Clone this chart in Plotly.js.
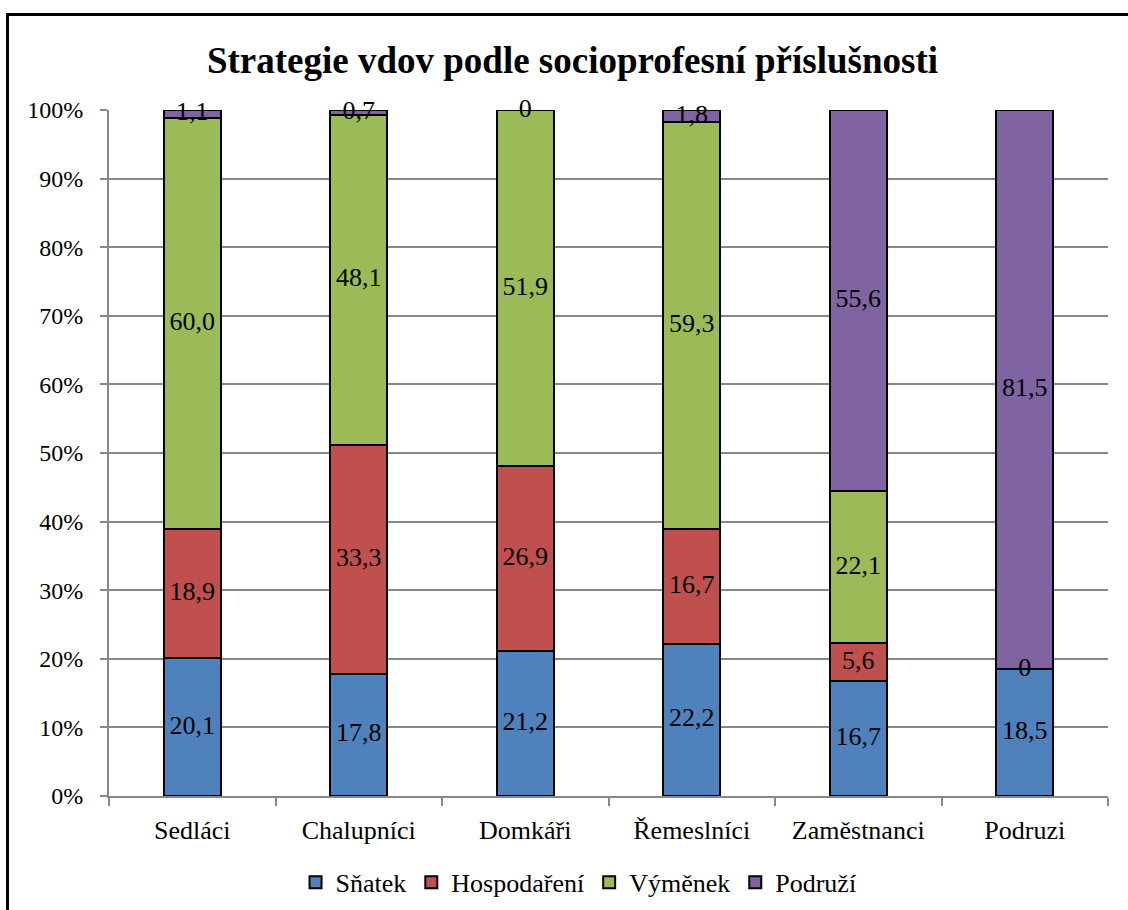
<!DOCTYPE html>
<html>
<head>
<meta charset="utf-8">
<script src="https://cdn.plot.ly/plotly-3.0.1.min.js"></script>
<style>
  html, body { margin: 0; padding: 0; background: #fff; overflow: hidden; }
  #wrap { position: relative; width: 1128px; height: 910px; overflow: hidden; }
  #chart { width: 1128px; height: 910px; }
  #frame { position: absolute; left: 6px; top: 13px; width: 1200px; height: 1000px;
           border: 3px solid #000; pointer-events: none; box-sizing: border-box; }
</style>
</head>
<body>
<div id="wrap">
  <div id="chart"></div>
  <div id="frame"></div>
</div>
<script>
const categories = ['Sedláci', 'Chalupníci', 'Domkáři', 'Řemeslníci', 'Zaměstnanci', 'Podruzi'];
const seriesNames = ['Sňatek', 'Hospodaření', 'Výměnek', 'Podruží'];
const snatek      = [20.1, 17.8, 21.2, 22.2, 16.7, 18.5];
const hospodareni = [18.9, 33.3, 26.9, 16.7, 5.6, 0];
const vymenek     = [60.0, 48.1, 51.9, 59.3, 22.1, null];
const podruzi     = [1.1, 0.7, 0, 1.8, 55.6, 81.5];
const colors = ['#4F81BD', '#C0504D', '#9BBB59', '#8064A2'];

const series = [snatek, hospodareni, vymenek, podruzi];
const FONT = 'Liberation Serif';

function fmt(v) {
  if (v === null) return '';
  if (v === 0) return '0';
  return v.toFixed(1).replace('.', ',');
}

// totals for 100% normalisation
const totals = categories.map((c, i) => series.reduce((s, arr) => s + (arr[i] || 0), 0));

const traces = [];
series.forEach((arr, k) => {
  traces.push({
    type: 'bar',
    name: seriesNames[k],
    x: categories,
    y: arr,
    width: 0.34,
    marker: { color: colors[k], line: { color: '#000', width: 2 } },
    hoverinfo: 'skip'
  });
});

// data labels at segment centres (normalised to percent)
series.forEach((arr, k) => {
  const ys = [], txt = [], xs = [];
  categories.forEach((c, i) => {
    if (arr[i] === null) return;
    let below = 0;
    for (let j = 0; j < k; j++) below += (series[j][i] || 0);
    const mid = (below + arr[i] / 2) / totals[i] * 100;
    xs.push(c); ys.push(mid); txt.push(fmt(arr[i]));
  });
  traces.push({
    type: 'scatter',
    mode: 'text',
    x: xs,
    y: ys,
    text: txt,
    textposition: 'middle center',
    textfont: { family: FONT, size: 26, color: '#000' },
    showlegend: false,
    hoverinfo: 'skip',
    cliponaxis: false
  });
});

const layout = {
  width: 1128,
  height: 910,
  margin: { l: 109, r: 20, t: 110, b: 114, autoexpand: false },
  paper_bgcolor: '#fff',
  plot_bgcolor: '#fff',
  barmode: 'stack',
  barnorm: 'percent',
  font: { family: FONT, color: '#000', size: 25 },
  title: {
    text: '<b>Strategie vdov podle socioprofesní příslušnosti</b>',
    font: { family: FONT, size: 37, color: '#000' },
    xref: 'container', x: 0.5075, xanchor: 'center',
    yref: 'container', y: 1 - 60 / 910, yanchor: 'middle'
  },
  xaxis: {
    type: 'category',
    automargin: false,
    showline: true, linecolor: '#888', linewidth: 2,
    ticks: 'outside', tickson: 'boundaries', ticklen: 8, tickcolor: '#888', tickwidth: 2,
    ticklabelstandoff: 10,
    tickfont: { family: FONT, size: 26, color: '#000' },
    showgrid: false,
    fixedrange: true
  },
  yaxis: {
    range: [0, 100],
    automargin: false,
    tickvals: [0, 10, 20, 30, 40, 50, 60, 70, 80, 90, 100],
    ticktext: ['0%', '10%', '20%', '30%', '40%', '50%', '60%', '70%', '80%', '90%', '100%'],
    showline: true, linecolor: '#888', linewidth: 2,
    ticks: 'outside', ticklen: 7, tickcolor: '#888', tickwidth: 2,
    ticklabelstandoff: 12,
    showgrid: true, gridcolor: '#888', gridwidth: 2,
    zeroline: false,
    tickfont: { family: FONT, size: 24, color: '#000' },
    fixedrange: true
  },
  showlegend: true,
  legend: {
    orientation: 'h',
    x: 0.47, xanchor: 'center',
    y: -0.126, yanchor: 'middle',
    traceorder: 'normal',
    font: { family: FONT, size: 26, color: '#000' },
    itemwidth: 30,
    tracegroupgap: 0
  }
};

Plotly.newPlot('chart', traces, layout, { displayModeBar: false, staticPlot: true });
</script>
</body>
</html>
